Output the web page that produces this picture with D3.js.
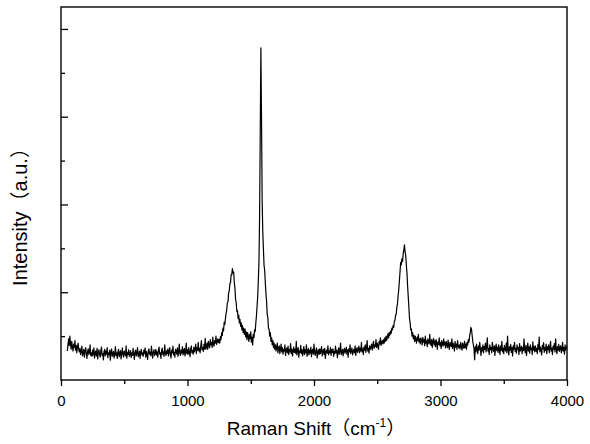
<!DOCTYPE html>
<html>
<head>
<meta charset="utf-8">
<script src="https://cdn.jsdelivr.net/npm/d3@7/dist/d3.min.js"></script>
<style>
  html, body { margin: 0; padding: 0; background: #fff; }
  svg { display: block; }
  text { font-family: "Liberation Sans", Arial, "Noto Sans CJK SC", sans-serif; fill: #000; }
</style>
</head>
<body>
<svg id="chart" width="590" height="444"></svg>
<script>
// ---- Data ----
// Raman shift sampling grid (cm^-1): start and step of the recorded spectrum
const shiftStart = 50;
const shiftStep = 5;
// Intensity (a.u.) at each sampled shift, 50 ... 4000 cm^-1 (20 values = 100 cm^-1 per row)
const intensity = [
  66, 80, 94, 78, 100, 84, 70, 88, 76, 66, 82, 74, 90, 68, 79, 62, 75, 84, 70, 64,
  72, 58, 66, 77, 55, 61, 70, 52, 67, 74, 60, 49, 65, 71, 58, 63, 80, 56, 62, 54,
  68, 57, 73, 50, 61, 66, 55, 72, 48, 63, 69, 58, 52, 67, 75, 56, 60, 46, 64, 70,
  55, 66, 59, 74, 51, 62, 57, 68, 45, 63, 71, 54, 60, 65, 50, 58, 76, 56, 62, 49,
  64, 70, 53, 59, 67, 48, 61, 73, 57, 52, 66, 62, 55, 78, 50, 63, 58, 69, 54, 60,
  67, 51, 62, 56, 72, 59, 47, 64, 68, 55, 61, 74, 53, 58, 66, 49, 63, 70, 57, 62,
  54, 68, 60, 73, 52, 65, 58, 47, 66, 71, 59, 63, 55, 77, 61, 50, 64, 69, 56, 60,
  70, 57, 64, 52, 68, 75, 59, 62, 49, 66, 73, 58, 64, 54, 80, 61, 56, 67, 60, 71,
  55, 65, 74, 58, 50, 68, 62, 77, 57, 63, 52, 70, 66, 59, 73, 54, 64, 82, 60, 56,
  68, 61, 76, 57, 66, 72, 55, 63, 84, 60, 69, 58, 74, 64, 53, 70, 78, 62, 67, 59,
  75, 64, 71, 82, 60, 73, 68, 86, 66, 72, 62, 78, 90, 69, 74, 65, 81, 71, 95, 70,
  76, 84, 70, 88, 79, 73, 92, 80, 86, 74, 98, 82, 77, 90, 84, 100, 81, 88, 94, 85,
  92, 84, 99, 92, 108, 101, 118, 112, 132, 126, 140, 152, 160, 176, 178, 198, 203, 220, 222, 240,
  240, 254, 244, 246, 222, 210, 184, 176, 156, 158, 140, 148, 130, 138, 122, 130, 114, 124, 108, 118,
  104, 116, 98, 110, 92, 108, 100, 88, 104, 94, 110, 86, 98, 80, 104, 96, 114, 110, 130, 146,
  168, 190, 228, 270, 376, 560, 757, 600, 412, 338, 300, 262, 250, 222, 198, 180, 150, 142, 118, 116,
  100, 108, 88, 96, 80, 90, 74, 84, 70, 80, 66, 76, 84, 62, 72, 78, 60, 70, 82, 64,
  74, 59, 70, 66, 80, 56, 68, 73, 62, 77, 58, 69, 64, 83, 60, 71, 55, 66, 75, 63,
  70, 61, 88, 57, 68, 74, 52, 66, 63, 79, 60, 70, 55, 65, 76, 58, 69, 62, 80, 54,
  64, 72, 57, 68, 61, 75, 53, 66, 70, 59, 82, 62, 56, 67, 73, 50, 64, 69, 58, 71,
  60, 67, 76, 55, 63, 70, 58, 72, 49, 65, 68, 61, 78, 57, 66, 62, 74, 56, 69, 63,
  71, 54, 65, 60, 77, 62, 68, 51, 64, 73, 59, 66, 84, 58, 63, 70, 55, 67, 72, 61,
  66, 75, 59, 69, 52, 71, 64, 80, 60, 67, 73, 57, 65, 70, 62, 78, 56, 68, 74, 63,
  69, 77, 62, 72, 66, 85, 64, 71, 58, 75, 68, 80, 63, 74, 90, 66, 72, 61, 78, 70,
  74, 82, 68, 79, 88, 72, 80, 76, 92, 74, 84, 78, 70, 88, 82, 96, 79, 86, 90, 82,
  92, 84, 96, 88, 100, 90, 98, 106, 96, 108, 102, 112, 106, 118, 114, 124, 120, 134, 136, 148,
  150, 166, 174, 192, 206, 226, 246, 268, 262, 276, 270, 288, 296, 308, 292, 284, 262, 244, 214, 190,
  166, 140, 130, 114, 116, 100, 108, 94, 102, 88, 100, 92, 84, 98, 90, 104, 86, 94, 82, 96,
  90, 80, 97, 86, 92, 78, 100, 84, 89, 76, 94, 87, 82, 104, 85, 79, 92, 74, 88, 95,
  80, 89, 76, 92, 84, 70, 87, 81, 96, 78, 85, 72, 90, 83, 77, 94, 80, 86, 73, 88,
  82, 74, 91, 78, 70, 86, 80, 76, 94, 72, 84, 79, 66, 88, 75, 82, 70, 90, 77, 73,
  80, 71, 86, 76, 68, 84, 78, 72, 88, 74, 82, 70, 86, 80, 92, 86, 100, 108, 120, 116,
  102, 88, 80, 70, 46, 76, 64, 82, 70, 60, 78, 68, 86, 72, 56, 74, 66, 80, 62, 76,
  70, 84, 64, 76, 96, 66, 72, 58, 80, 69, 74, 62, 86, 71, 65, 78, 56, 73, 82, 67,
  75, 63, 80, 70, 58, 77, 68, 88, 64, 72, 60, 79, 71, 66, 84, 62, 100, 70, 57, 76,
  68, 81, 63, 74, 55, 78, 70, 86, 65, 72, 61, 80, 69, 74, 58, 83, 66, 71, 77, 60,
  74, 67, 94, 70, 62, 79, 56, 72, 84, 66, 75, 61, 80, 69, 73, 58, 87, 68, 76, 64,
  78, 66, 72, 60, 81, 70, 98, 64, 75, 68, 57, 79, 71, 85, 63, 74, 67, 82, 60, 76,
  69, 80, 62, 74, 88, 66, 72, 58, 77, 70, 83, 64, 94, 71, 60, 76, 68, 81, 65, 73,
  78, 62, 70, 86, 66, 74, 59, 80, 68, 72, 76
];
const xMajorTicks = [0, 1000, 2000, 3000, 4000];
const xMinorTicks = [500, 1500, 2500, 3500];
const yMajorTicks = [200, 400, 600, 800];
const yMinorTicks = [100, 300, 500, 700];
const xDomain = [0, 4000];
const yDomain = [0, 850];
const xTitle = "Raman Shift（cm";
const xTitleSup = "-1";
const xTitleEnd = "）";
const yTitle = "Intensity（a.u.）";

// ---- Layout ----
const plot = { left: 61, right: 567, top: 7, bottom: 380 };
const svg = d3.select("#chart");

const x = d3.scaleLinear().domain(xDomain).range([plot.left, plot.right]);
const y = d3.scaleLinear().domain(yDomain).range([plot.bottom, plot.top]);

const data = intensity.map((v, i) => ({ s: shiftStart + i * shiftStep, v }));

// spectrum line
const line = d3.line().x(d => x(d.s)).y(d => y(d.v));
svg.append("path")
  .datum(data)
  .attr("d", line)
  .attr("fill", "none")
  .attr("stroke", "#000")
  .attr("stroke-width", 1.2)
  .attr("stroke-linejoin", "round");

// x axis (outward ticks)
const xAxisMajor = d3.axisBottom(x).tickValues(xMajorTicks).tickSize(6).tickSizeOuter(0).tickFormat(d3.format("d"));
const gx = svg.append("g").attr("transform", `translate(0,${plot.bottom})`).call(xAxisMajor);
gx.select(".domain").remove();
gx.selectAll(".tick line").attr("stroke", "#000").attr("stroke-width", 1.3);
gx.selectAll(".tick text").attr("font-size", 15).attr("dy", null).attr("y", 26);

const xAxisMinor = d3.axisBottom(x).tickValues(xMinorTicks).tickSize(4).tickSizeOuter(0).tickFormat("");
const gxm = svg.append("g").attr("transform", `translate(0,${plot.bottom})`).call(xAxisMinor);
gxm.select(".domain").remove();
gxm.selectAll(".tick line").attr("stroke", "#000").attr("stroke-width", 1.3);

// y axis (inward ticks, no labels)
const yAxisMajor = d3.axisRight(y).tickValues(yMajorTicks).tickSize(7).tickSizeOuter(0).tickFormat("");
const gy = svg.append("g").attr("transform", `translate(${plot.left},0)`).call(yAxisMajor);
gy.select(".domain").remove();
gy.selectAll(".tick line").attr("stroke", "#000").attr("stroke-width", 1.3);

const yAxisMinor = d3.axisRight(y).tickValues(yMinorTicks).tickSize(4).tickSizeOuter(0).tickFormat("");
const gym = svg.append("g").attr("transform", `translate(${plot.left},0)`).call(yAxisMinor);
gym.select(".domain").remove();
gym.selectAll(".tick line").attr("stroke", "#000").attr("stroke-width", 1.3);

// frame
svg.append("rect")
  .attr("x", plot.left).attr("y", plot.top)
  .attr("width", plot.right - plot.left).attr("height", plot.bottom - plot.top)
  .attr("fill", "none").attr("stroke", "#000").attr("stroke-width", 1.4);

// axis titles
const xt = svg.append("text")
  .attr("x", (plot.left + plot.right) / 2 + 2)
  .attr("y", 435)
  .attr("text-anchor", "middle")
  .attr("font-size", 19);
xt.append("tspan").text(xTitle);
xt.append("tspan").attr("font-size", 12).attr("dy", -8).text(xTitleSup);
xt.append("tspan").attr("dy", 8).text(xTitleEnd);

svg.append("text")
  .attr("transform", `translate(27,${212}) rotate(-90)`)
  .attr("text-anchor", "middle")
  .attr("font-size", 20)
  .text(yTitle);
</script>
</body>
</html>
